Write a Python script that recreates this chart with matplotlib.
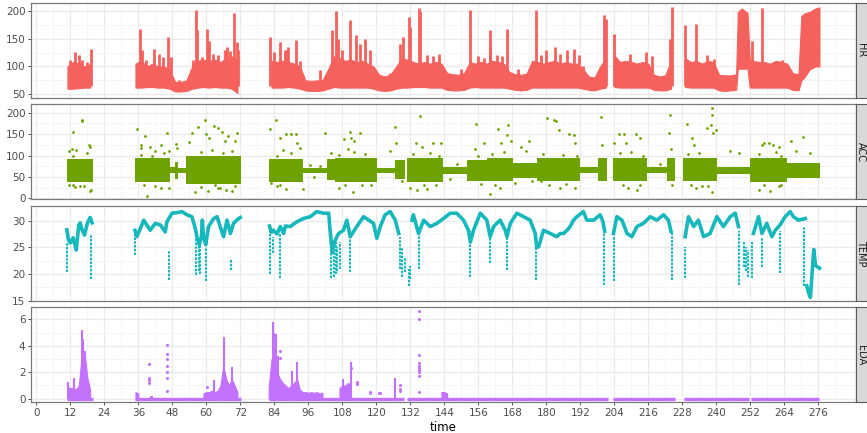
import numpy as np
import matplotlib.pyplot as plt
from matplotlib.patches import Rectangle

# ---------------- data ----------------
# HR: time bins, lower / upper edge of the dense band
hr_t = [11, 13, 15, 17, 19,
        35, 37, 39, 41, 43, 45, 47, 49, 51, 53, 55, 57, 59, 61, 63, 65, 67, 69, 71,
        83, 85, 87, 89, 91, 93, 95, 97, 99, 101, 103, 105, 107, 109, 111, 113, 115, 117, 119,
        121, 123, 125, 127, 129, 131, 133, 135, 137, 139, 141, 143, 145, 147, 149, 151, 153,
        155, 157, 159, 161, 163, 165, 167, 169, 171, 173, 175, 177, 179, 181, 183, 185, 187,
        189, 191, 193, 195, 197, 199, 201,
        204, 206, 208, 210, 212, 214, 216, 218, 220, 222, 224,
        229, 231, 233, 235, 237, 239, 241, 243, 245, 247, 247.6, 249, 251, 251.8, 253, 255,
        257, 259, 261, 263, 265, 267, 269, 270, 271, 273, 275, 276.4]
hr_lo = [60, 60, 61, 62, 62,
         62, 62, 63, 63, 62, 62, 60, 55, 55, 56, 60, 62, 63, 62, 63, 62, 62, 60, 52,
         62, 62, 62, 63, 62, 60, 57, 56, 56, 57, 60, 63, 62, 62, 62, 62, 62, 62, 60,
         57, 56, 57, 60, 62, 62, 63, 63, 63, 62, 62, 62, 58, 57, 57, 58, 62,
         63, 62, 62, 62, 62, 62, 60, 58, 57, 58, 62, 62, 62, 62, 62, 62, 62,
         62, 62, 60, 58, 57, 60, 62,
         63, 62, 62, 62, 62, 62, 62, 58, 57, 57, 60,
         63, 62, 62, 62, 62, 62, 57, 56, 57, 58, 96, 96, 96, 62, 62, 62,
         62, 62, 62, 62, 62, 58, 57, 75, 80, 95, 100, 100]
hr_hi = [100, 108, 105, 100, 104,
         105, 110, 100, 105, 100, 100, 95, 72, 72, 75, 100, 110, 112, 110, 112, 108, 115, 118, 110,
         110, 108, 110, 108, 105, 100, 75, 74, 75, 75, 95, 118, 115, 110, 112, 108, 110, 105, 100,
         85, 82, 85, 100, 115, 112, 108, 105, 108, 105, 108, 105, 88, 86, 85, 88, 108,
         105, 108, 105, 110, 108, 105, 90, 86, 85, 87, 110, 108, 105, 108, 110, 105, 108,
         105, 105, 95, 82, 80, 100, 115,
         120, 108, 110, 108, 105, 108, 105, 85, 82, 84, 110,
         115, 108, 110, 105, 110, 108, 85, 84, 84, 86, 198, 204, 196, 110, 110, 108,
         108, 105, 110, 108, 105, 88, 86, 190, 195, 198, 204, 206]
# HR short peaks
hr_peak_t = [12, 13.8, 15, 16, 17.9, 19.3,
             36.7, 37.2, 38.7, 41.4, 43.2, 44.6, 46.5, 47.5, 50.5, 55.2, 56.3, 56.8, 58.5, 60.2,
             60.8, 62.5, 64, 66.5, 67.3, 68.2, 69.9, 70.8, 71.3,
             82.5, 84, 86, 87.9, 88.5, 89, 91.7, 93, 100.2, 104.3, 105.7, 106.5, 108, 110.8,
             112.9, 114.1, 116.1, 117.9, 124.9, 128.5, 129.4, 131.4, 132, 135.1, 135.4, 138,
             140, 142, 150, 153.1, 156, 158, 160, 160.3, 162.5, 164.5, 166.1, 170, 176.3,
             178, 180, 183.1, 185, 187.3, 189.6, 191.5, 193.1, 200.2, 201,
             203.8, 207.2, 209.6, 215.2, 217.2, 223.5, 224.5,
             228.8, 232.9, 236.7, 239.2, 252.5, 256.1, 260.2, 263.1]
hr_peak_v = [112, 126, 120, 111, 108, 132,
             168, 129, 111, 132, 123, 117, 153, 117, 76, 111, 201, 165, 117, 168,
             145, 123, 120, 129, 135, 128, 196, 144, 130,
             153, 126, 144, 129, 129, 135, 147, 110, 93, 165, 200, 150, 130, 184,
             156, 141, 150, 129, 88, 140, 152, 189, 171, 204, 200, 120,
             118, 122, 95, 201, 118, 115, 165, 135, 120, 118, 168, 95, 201,
             120, 129, 135, 122, 129, 132, 120, 100, 192, 185,
             159, 108, 123, 126, 118, 150, 206,
             174, 177, 120, 114, 145, 205, 108, 111]

# ACC: dense core per time block
acc_start = [10.8, 34.8, 47.3, 49, 50, 53, 82.3, 94.3, 102.6, 105.5, 120.2, 126.7, 130.8,
             143.7, 152, 159, 168.4, 176.7, 192, 198.4, 203.6, 215.5, 222.5, 228.3,
             240.2, 252, 264.9]
acc_end = [20, 47.3, 49, 50, 53, 72.2, 94.3, 102.6, 105.5, 120.2, 126.7, 130.2, 143.7,
           152, 159, 168.4, 176.7, 192, 198.4, 201.5, 215.5, 222.5, 225.3, 240.2,
           252, 264.9, 276.5]
acc_lo = [38, 38, 58, 45, 60, 34, 38, 60, 42, 38, 60, 45, 38, 57, 40, 40, 48, 40, 58, 40,
          40, 58, 40, 40, 56, 38, 47]
acc_hi = [92, 95, 72, 85, 70, 98, 92, 70, 92, 95, 70, 90, 95, 73, 90, 95, 82, 95, 72, 95,
          95, 72, 95, 95, 74, 95, 82]
# ACC scattered readings outside the core
acc_out_t = [11.5, 12.5, 12.8, 14, 16, 16.2, 18.6, 19, 13.5, 19, 19.2, 17, 11.5, 15.5,
             35.5, 36.8, 37, 38.3, 40, 42, 44, 46.2, 46.8, 49.3, 49.5, 47, 39, 44, 54, 55, 57,
             59.7, 60, 61, 62.8, 64, 65.7, 66.5, 67.8, 70, 71, 56, 60.5, 63, 67, 69, 65,
             82.5, 84.5, 86, 88, 90, 92, 83, 88, 85, 87, 91.5, 93, 94, 96.5, 100, 102, 98, 104,
             108.5, 110.8, 111, 112, 114.3, 110, 111.6, 118, 107, 125, 126.7, 127, 129,
             135.5, 134, 136, 140, 143, 132, 134.5, 138, 146, 148.5, 155, 155.2, 158, 160,
             163, 166.5, 166, 164, 167.5, 163.5, 169, 171, 173, 174, 175,
             180.3, 182.6, 183.5, 184.5, 188, 189.6, 185, 190, 178, 190, 199.2, 199.5,
             204, 205.5, 207.5, 211.5, 208, 213, 209, 212, 220, 223.8, 223.3, 224, 224.5,
             229.6, 231.5, 232, 236.7, 238.5, 238.6, 238, 239, 240, 233, 238.6, 235, 245, 248,
             256, 257, 258.7, 260, 262.3, 255, 259, 262, 266.5, 270.6, 268, 273, 275.5,
             13, 18, 37, 41, 45, 58, 62, 66, 69, 85, 90, 107, 112, 116, 133, 139, 142, 156,
             161, 165, 179, 186, 191, 206, 210, 214, 230, 234, 255, 261, 263,
             13, 38, 42, 58, 64, 70, 86, 109, 115, 137, 141, 157, 162, 181, 187, 207, 213,
             231, 237, 257, 263]
acc_out_v = [110, 115, 155, 112, 181, 183, 124, 120, 26, 16, 20, 28, 30, 28,
             162, 125, 118, 145, 120, 110, 125, 152, 110, 126, 118, 25, 6, 25, 132, 152, 167,
             183, 150, 140, 169, 165, 155, 135, 145, 135, 153, 15, 18, 30, 20, 18, 25,
             163, 183, 140, 150, 150, 130, 35, 22, 28, 112, 150, 118, 21, 78, 75, 152, 50, 105,
             138, 156, 140, 133, 152, 115, 15, 30, 25, 110, 167, 130, 40,
             193, 130, 120, 130, 130, 25, 20, 22, 45, 80, 115, 173, 130, 10,
             162, 171, 148, 130, 135, 25, 35, 120, 110, 135, 40,
             188, 183, 180, 160, 150, 148, 25, 25, 40, 130, 190, 125,
             130, 150, 150, 150, 130, 140, 25, 20, 80, 194, 152, 115, 30,
             173, 140, 125, 165, 212, 195, 172, 152, 160, 25, 15, 28, 110, 105,
             125, 130, 130, 125, 120, 20, 18, 28, 135, 144, 110, 105, 75,
             100, 105, 102, 100, 105, 108, 112, 105, 110, 100, 105, 102, 108, 104, 103, 106,
             100, 100, 104, 108, 104, 102, 100, 105, 108, 100, 104, 106, 103, 108, 100,
             32, 30, 28, 26, 24, 28, 30, 32, 30, 30, 32, 33, 30, 32, 33, 30, 32,
             30, 28, 30, 32]

# TEMP trace (nan separates recording blocks)
nan = np.nan
temp_t = [10.8, 11.3, 12, 13, 14.1, 15, 15.5, 16, 17, 18, 19, 19.7, nan,
          34.8, 35.5, 36.7, 37.9, 39, 40.2, 42, 43.8, 45.5, 46.1, 47.9, 49.6, 51.4, 53.2,
          54.9, 56.1, 56.7, 57.5, 58.3, 58.6, 59, 59.8, 60.8, 62.6, 63.8, 64.9, 66.1, 67.3,
          68.5, 69.6, 71.4, 72, nan,
          82.3, 83, 83.7, 85, 86.1, 87.3, 87.9, 89.6, 92, 94.3, 96.7, 99, 101.4, 103.2, 103.7,
          104.5, 105.2, 106.7, 108.4, 109.6, 110.8, 113.1, 115.5, 117.3, 119, 120.2, 121.4,
          123.1, 124.9, 126.7, 127.9, nan,
          132.6, 133.1, 134.9, 136.7, 139, 141.4, 143.7, 146.1, 148.4, 150.8, 152.5, 153.2,
          154.3, 156.7, 159, 160.2, 161.4, 163.7, 165.5, 166.1, 167.3, 169.6, 172, 174.3,
          176.1, 176.6, 177.3, 179, 181.4, 183.7, 184.9, 186.1, 187.3, 188.4, 189.6, 190.8,
          193.1, 194.3, 196.7, 199, 200, 200.6, nan,
          203.7, 204.9, 206.7, 208.5, 210.2, 212, 214.3, 216.7, 219, 221.4, 223.1, 224, nan,
          229, 230.2, 232, 233.7, 235.5, 237.8, 240.2, 242.5, 244.9, 246.7, 247.8, nan,
          253.1, 254.9, 256.1, 257.8, 259.6, 260.8, 262.5, 264.3, 266.1, 267.2, 269, 271.4, nan,
          271.9, 272.5, 273.2, 273.9, 274.4, 275, 276.4]
temp_v = [28.3, 26.5, 25.8, 26.8, 24.5, 29.2, 29.6, 28.5, 27.3, 29.5, 30.6, 29.6, nan,
          28.2, 27.0, 28.5, 30.1, 29.2, 28.2, 29.5, 29.2, 27.9, 29.8, 31.4, 31.5, 31.7, 31.1,
          30.75, 28.6, 27.0, 25.5, 27.0, 30.1, 27.0, 25.5, 28.9, 30.4, 30.75, 28.9, 27.0, 30.1,
          27.6, 29.5, 30.4, 30.6, nan,
          29.0, 27.8, 28.2, 27.5, 28.9, 27.6, 29.0, 28.9, 29.8, 30.4, 30.75, 31.7, 31.4, 31.4, 28.0,
          24.0, 26.0, 27.6, 28.2, 30.1, 27.0, 28.9, 30.75, 30.1, 29.5, 26.7, 28.9,
          31.1, 31.7, 30.1, 27.6, nan,
          30.1, 31.1, 27.6, 30.1, 28.9, 29.5, 30.4, 31.4, 31.4, 30.1, 28.2, 26.0,
          28.2, 31.4, 30.1, 27.0, 28.9, 30.1, 28.2, 27.0, 29.5, 31.4, 30.75, 30.1,
          27.6, 25.0, 25.1, 28.2, 27.6, 27.0, 27.6, 27.6, 28.2, 28.9, 30.1, 30.75,
          31.7, 30.1, 30.1, 31.1, 29.8, 28.0, nan,
          27.6, 30.75, 30.1, 27.6, 27.0, 28.9, 29.5, 30.75, 30.1, 31.1, 30.1, 28.0, nan,
          27.0, 30.75, 28.9, 30.1, 27.0, 27.6, 30.75, 28.9, 30.75, 31.4, 28.9, nan,
          27.6, 30.75, 27.6, 29.5, 27.0, 28.2, 29.2, 30.75, 31.7, 30.75, 30.1, 30.4, nan,
          17.8, 16.6, 15.6, 21.0, 24.6, 21.6, 21.1]
# TEMP short drop-outs: time, start value, lowest value
temp_drop_t = [11, 19.2, 35, 46.8, 56.5, 57.3, 57.8, 60, 68.7,
               82.4, 83.6, 85.9, 104, 105, 105.8, 106.3, 107.3, 110.8, 128.4, 129, 130,
               131.4, 131.9, 134.9, 153, 160.2, 166.1, 176.5, 200.2,
               203.8, 224.3, 228.9, 248, 249.6, 250.5, 251.2, 252.5, 256.3, 262.5, 271.1]
temp_drop_top = [26, 27.5, 28, 24.5, 27, 26, 26, 25, 22.6,
                 29, 27, 27.5, 28, 24.5, 26, 25, 26, 27, 27, 25, 23,
                 21, 21.5, 27.6, 28, 27, 27, 27, 29,
                 27, 28, 25, 28, 26, 25, 24.5, 26, 27, 28, 29]
temp_drop_low = [20.4, 19.0, 23.6, 18.9, 19.8, 20.5, 20.0, 18.6, 20.75,
                 20.0, 24.0, 19.2, 19.2, 19.5, 20.0, 20.5, 21.0, 20.4, 21.0, 19.5, 20.3,
                 17.75, 19.0, 21.0, 19.5, 22.0, 20.75, 18.9, 17.9,
                 18.6, 18.9, 19.2, 17.9, 21.4, 20.5, 19.5, 19.2, 21.4, 20.1, 17.8]

# EDA: stretches where the sensor sits at zero
eda_base_start = [10.8, 34.8, 82.3, 131, 203.7, 228.7, 252.2]
eda_base_end = [20, 72.2, 129.8, 201.7, 225.5, 251.6, 276.4]
# EDA active bins (1 unit wide), upper edge of the band
eda_t = [11, 12, 13, 14, 15, 16, 17, 18, 19,
         35, 36, 40, 41, 59, 60, 61, 62, 63, 64, 65, 66, 67, 68, 69, 70, 71,
         82, 83, 84, 85, 86, 87, 88, 89, 90, 91, 92, 93, 94, 95, 96, 97, 98, 99, 100, 101,
         107, 108, 109, 110, 111, 143, 144, 145]
eda_hi = [0.9, 0.8, 0.8, 0.7, 1.0, 3.2, 3.5, 1.6, 0.7,
          0.5, 0.4, 0.2, 0.2, 0.4, 0.5, 0.5, 0.6, 0.5, 0.6, 1.0, 2.5, 1.5, 1.0, 1.5, 1.0, 0.5,
          0.8, 3.0, 2.5, 2.0, 1.5, 1.2, 1.0, 0.8, 1.0, 1.2, 1.5, 0.7, 0.5, 0.5, 0.45, 0.5,
          0.45, 0.5, 0.4, 0.45,
          0.8, 1.0, 1.0, 1.2, 1.0, 0.5, 0.5, 0.4]
eda_peak_t = [11.3, 13.4, 16.1, 16.6, 17.3, 62.6, 66.1, 66.4, 69, 83.4, 83.8, 84.7, 85.3,
              90.2, 92, 108.2, 111, 126.7]
eda_peak_v = [1.3, 1.6, 5.2, 4.5, 3.6, 1.4, 4.7, 4.3, 2.4, 5.8, 5.0, 4.9, 3.2,
              2.1, 2.75, 1.5, 2.8, 1.55]
eda_dot_t = [39.9, 39.9, 39.9, 39.9, 46.1, 46.1, 46.1, 46.1, 46.1, 46.1, 46.1, 60.2,
             86.1, 86.1, 111, 113.2, 113.2, 117.9, 117.9, 121, 121.2, 128.4, 128.4, 128.4,
             135.1, 135.1, 135.1, 135.1, 135.1, 135.1, 135.1, 135.1, 135.1, 135.1]
eda_dot_v = [2.6, 1.6, 1.4, 1.2, 4.05, 3.4, 3.0, 2.5, 2.0, 1.6, 0.6, 0.85,
             3.63, 3.05, 2.3, 1.3, 1.1, 0.5, 0.4, 0.4, 0.4, 1.0, 0.75, 0.6,
             6.63, 6.0, 3.3, 2.7, 2.5, 2.3, 2.15, 2.0, 1.7, 0.5]

# ---------------- plotting ----------------
W, H = 867, 433
fig = plt.figure(figsize=(W / 100, H / 100), dpi=100)

col_hr = '#F5615C'
col_acc = '#6EA200'
col_temp = '#16B8BC'
col_eda = '#C272FF'

def make_panel(top, bottom, ylim, yticks, yminor, label, show_x=False):
    ax = fig.add_axes([31 / W, 1 - bottom / H, (856 - 31) / W, (bottom - top) / H])
    ax.set_xlim(-1.87, 289.3)
    ax.set_ylim(*ylim)
    ax.set_xticks(range(0, 277, 12))
    ax.set_xticks(range(6, 283, 12), minor=True)
    ax.set_yticks(yticks)
    ax.set_yticks(yminor, minor=True)
    ax.grid(which='major', color='#EBEBEB', lw=0.9)
    ax.grid(which='minor', color='#F2F2F2', lw=0.5)
    ax.set_axisbelow(True)
    ax.tick_params(which='minor', length=0)
    ax.tick_params(which='major', length=2.5, width=0.6, color='#333333',
                   labelsize=7.5, labelcolor='#4D4D4D', pad=1.5)
    if not show_x:
        ax.tick_params(axis='x', length=0, labelbottom=False)
    for s in ax.spines.values():
        s.set_color('#7A7A7A')
        s.set_linewidth(0.9)
    # facet strip on the right
    strip = Rectangle((856 / W, 1 - bottom / H), 22 / W, (bottom - top) / H,
                      transform=fig.transFigure, facecolor='#D9D9D9',
                      edgecolor='#5A5A5A', lw=0.8, clip_on=False)
    fig.patches.append(strip)
    fig.text(861 / W, 1 - (top + bottom) / 2 / H, label, rotation=270,
             ha='center', va='center', fontsize=7, color='#1A1A1A')
    return ax

def band(ax, t, lo, hi, color, gap):
    # fill each continuous run of bins separately
    t = np.asarray(t, float)
    lo = np.asarray(lo, float)
    hi = np.asarray(hi, float)
    cuts = np.where(np.diff(t) > gap)[0] + 1
    for idx in np.split(np.arange(len(t)), cuts):
        ax.fill_between(t[idx], lo[idx], hi[idx], color=color, lw=0.8, edgecolor=color)

# HR
ax1 = make_panel(2.7, 98.3, (42.8, 214.4), [50, 100, 150, 200], [75, 125, 175], 'HR')
band(ax1, hr_t, hr_lo, hr_hi, col_hr, 2.5)
ax1.vlines(hr_peak_t, 65, hr_peak_v, color=col_hr, lw=2.0)

# ACC
ax2 = make_panel(104.3, 199.3, (-2.3, 219.6), [0, 50, 100, 150, 200], [25, 75, 125, 175], 'ACC')
ax2.bar(acc_start, np.subtract(acc_hi, acc_lo), bottom=acc_lo,
        width=np.subtract(acc_end, acc_start), align='edge', color=col_acc, linewidth=0)
ax2.scatter(acc_out_t, acc_out_v, s=4, color=col_acc, linewidths=0)

# TEMP
ax3 = make_panel(205.7, 301, (14.94, 32.81), [15, 20, 25, 30], [17.5, 22.5, 27.5], 'TEMP')
ax3.vlines(temp_drop_t, temp_drop_low, temp_drop_top, color=col_temp, lw=1.5,
           linestyles=(0, (1.2, 0.6)))
ax3.plot(temp_t, temp_v, color=col_temp, lw=2.6, solid_joinstyle='round')

# EDA
ax4 = make_panel(307.3, 402.3, (-0.27, 6.91), [0, 2, 4, 6], [1, 3, 5], 'EDA', show_x=True)
ax4.hlines([0] * len(eda_base_start), eda_base_start, eda_base_end, color=col_eda, lw=2.4)
band(ax4, eda_t, [0] * len(eda_t), eda_hi, col_eda, 1.5)
ax4.vlines(eda_peak_t, 0, eda_peak_v, color=col_eda, lw=1.5)
ax4.scatter(eda_dot_t, eda_dot_v, s=5, color=col_eda, linewidths=0)
ax4.set_xlabel('time', fontsize=8.5, color='black', labelpad=2)

fig.savefig('out.png', dpi=100)
